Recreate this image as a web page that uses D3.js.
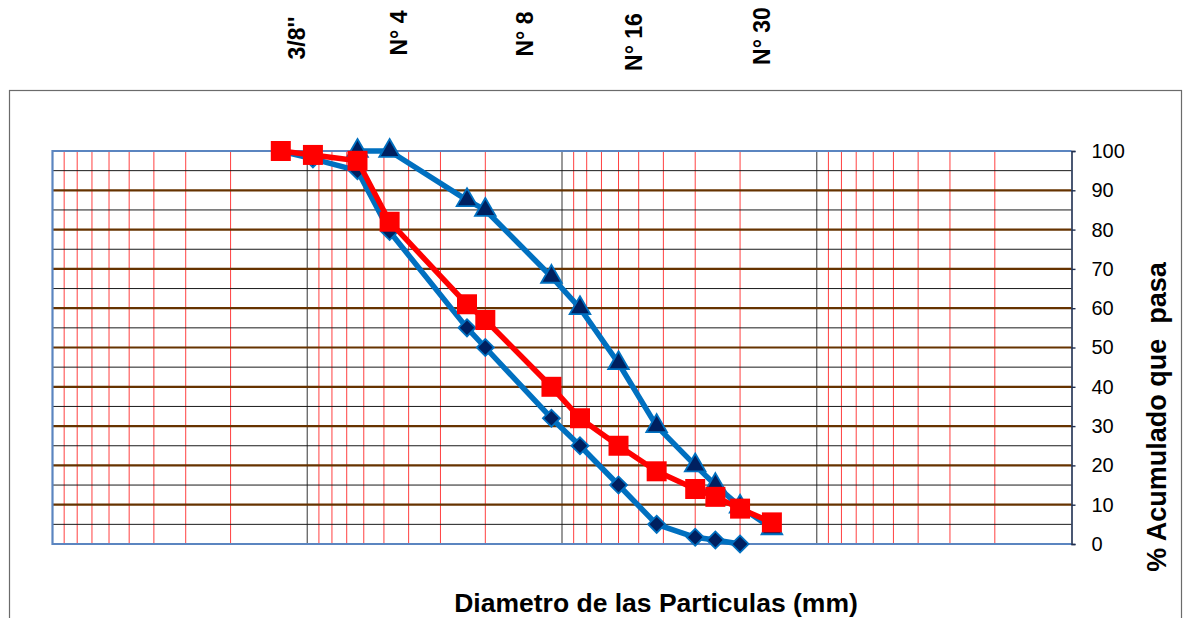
<!DOCTYPE html>
<html>
<head>
<meta charset="utf-8">
<script src="https://cdn.jsdelivr.net/npm/d3@7"></script>
<style>
  body { margin: 0; background: #fff; }
  svg { font-family: Arial, "Liberation Sans", sans-serif; }
</style>
</head>
<body>
<div id="chart"></div>
<script>
// sieve opening (mm) and % passing for each curve
const sizesUpper = [6.35, 4.75, 2.36, 2.0, 1.1, 0.85, 0.6, 0.425, 0.3, 0.25, 0.2, 0.15];
const passUpper = [100, 100, 87.5, 85, 68, 60, 46, 30, 20, 15, 9.5, 4];

const sizesSample = [12.7, 9.5, 6.35, 4.75, 2.36, 2.0, 1.1, 0.85, 0.6, 0.425, 0.3, 0.25, 0.2, 0.15];
const passSample = [100, 99, 97.5, 82, 61, 57, 40, 32, 25, 18.5, 14, 12, 9, 5.5];

const sizesLower = [12.7, 9.5, 6.35, 4.75, 2.36, 2.0, 1.1, 0.85, 0.6, 0.425, 0.3, 0.25, 0.2];
const passLower = [100, 98, 95, 79.5, 55, 50, 32, 25, 15, 5, 1.7, 1, 0];

const sieveNames = ["3/8''", "N° 4", "N° 8", "N° 16", "N° 30"];
const yTicks = [0, 10, 20, 30, 40, 50, 60, 70, 80, 90, 100];

// layout
const width = 1186;
const height = 618;
const plot = {left: 52.5, right: 1071.5, top: 151, bottom: 544};
// top label anchors (baseline x, centre y) - placed by hand in the original
const sieveLabelPos = [[305, 38], [407, 33], [533, 34], [642, 42], [770, 36]];

const svg = d3.select("#chart").append("svg")
    .attr("width", width)
    .attr("height", height);

// outer chart frame
svg.append("rect")
    .attr("x", 9.5).attr("y", 90.5)
    .attr("width", 1172).attr("height", 600)
    .attr("fill", "none")
    .attr("stroke", "#6b6b6b")
    .attr("stroke-width", 1.2);

const x = d3.scaleLog()
    .domain([100, 0.01])
    .range([plot.left, plot.right]);

const y = d3.scaleLinear()
    .domain([0, 100])
    .range([plot.bottom, plot.top]);

// vertical grid: 2..9 of each decade in red, decades in grey
const minorX = [];
const decadeX = [];
[0.01, 0.1, 1, 10].forEach(dec => {
    for (let k = 2; k <= 9; k++) minorX.push(dec * k);
    if (dec > 0.01) decadeX.push(dec);
});

const grid = svg.append("g");

grid.selectAll("line.vminor")
    .data(minorX)
    .enter().append("line")
    .attr("class", "vminor")
    .attr("x1", d => x(d)).attr("x2", d => x(d))
    .attr("y1", plot.top).attr("y2", plot.bottom)
    .attr("stroke", "#ff2020")
    .attr("stroke-opacity", 0.85)
    .attr("stroke-width", 1);

grid.selectAll("line.vdec")
    .data(decadeX)
    .enter().append("line")
    .attr("class", "vdec")
    .attr("x1", d => x(d)).attr("x2", d => x(d))
    .attr("y1", plot.top).attr("y2", plot.bottom)
    .attr("stroke", "#555")
    .attr("stroke-width", 1.2);

// horizontal grid: thin black every 5, brown every 10
const halfSteps = d3.range(5, 100, 10);
const tenSteps = d3.range(10, 100, 10);

grid.selectAll("line.hminor")
    .data(halfSteps)
    .enter().append("line")
    .attr("class", "hminor")
    .attr("x1", plot.left).attr("x2", plot.right)
    .attr("y1", d => y(d)).attr("y2", d => y(d))
    .attr("stroke", "#1a1a1a")
    .attr("stroke-width", 1);

grid.selectAll("line.hmajor")
    .data(tenSteps)
    .enter().append("line")
    .attr("class", "hmajor")
    .attr("x1", plot.left).attr("x2", plot.right)
    .attr("y1", d => y(d)).attr("y2", d => y(d))
    .attr("stroke", "#663300")
    .attr("stroke-width", 2.2);

// plot border (blue on left/top/bottom)
svg.append("path")
    .attr("d", `M${plot.right},${plot.top}H${plot.left}V${plot.bottom}H${plot.right}`)
    .attr("fill", "none")
    .attr("stroke", "#5b85c0")
    .attr("stroke-width", 2.2);

// right y axis
const yAxis = d3.axisRight(y)
    .tickValues(yTicks)
    .tickSize(4)
    .tickPadding(16);

const yAxisG = svg.append("g")
    .attr("transform", `translate(${plot.right},0)`)
    .call(yAxis);
yAxisG.select(".domain").attr("stroke", "#1f2f50").attr("stroke-width", 1.6);
yAxisG.selectAll(".tick line").attr("stroke", "#1f2f50").attr("stroke-width", 1.4);
yAxisG.selectAll(".tick text")
    .attr("font-size", 20)
    .attr("font-family", "Arial, 'Liberation Sans', sans-serif")
    .attr("fill", "#000");

// curves
const line = d3.line()
    .x(d => x(d[0]))
    .y(d => y(d[1]));

const upper = d3.zip(sizesUpper, passUpper);
const sample = d3.zip(sizesSample, passSample);
const lower = d3.zip(sizesLower, passLower);

function drawSeries(data, color, symbolType, size, fill, rotate, strokeMarker) {
    const g = svg.append("g");
    g.append("path")
        .datum(data)
        .attr("d", line)
        .attr("fill", "none")
        .attr("stroke", color)
        .attr("stroke-width", 5.5)
        .attr("stroke-linejoin", "round");
    g.selectAll("path.marker")
        .data(data)
        .enter().append("path")
        .attr("class", "marker")
        .attr("d", d3.symbol().type(symbolType).size(size))
        .attr("transform", d => `translate(${x(d[0])},${y(d[1])}) rotate(${rotate})`)
        .attr("fill", fill)
        .attr("stroke", strokeMarker)
        .attr("stroke-width", strokeMarker === "none" ? 0 : 1.8);
}

drawSeries(lower, "#0070c0", d3.symbolSquare, 145, "#002060", 45, "#0070c0");
drawSeries(upper, "#0070c0", d3.symbolTriangle, 185, "#002060", 0, "#0070c0");
drawSeries(sample, "#ff0000", d3.symbolSquare, 400, "#ff0000", 0, "none");

// sieve labels along the top
svg.append("g").selectAll("text")
    .data(sieveNames)
    .enter().append("text")
    .attr("transform", (d, i) => `translate(${sieveLabelPos[i][0]},${sieveLabelPos[i][1]}) rotate(-90)`)
    .attr("text-anchor", "middle")
    .attr("font-size", 23)
    .attr("font-weight", "bold")
    .text(d => d);

// axis titles
svg.append("text")
    .attr("x", 656)
    .attr("y", 612)
    .attr("text-anchor", "middle")
    .attr("font-size", 26.5)
    .attr("font-weight", "bold")
    .text("Diametro de las Particulas (mm)");

svg.append("text")
    .attr("transform", "translate(1166,417) rotate(-90)")
    .attr("text-anchor", "middle")
    .attr("font-size", 27)
    .attr("font-weight", "bold")
    .style("white-space", "pre")
    .text("% Acumulado que  pasa");
</script>
</body>
</html>
